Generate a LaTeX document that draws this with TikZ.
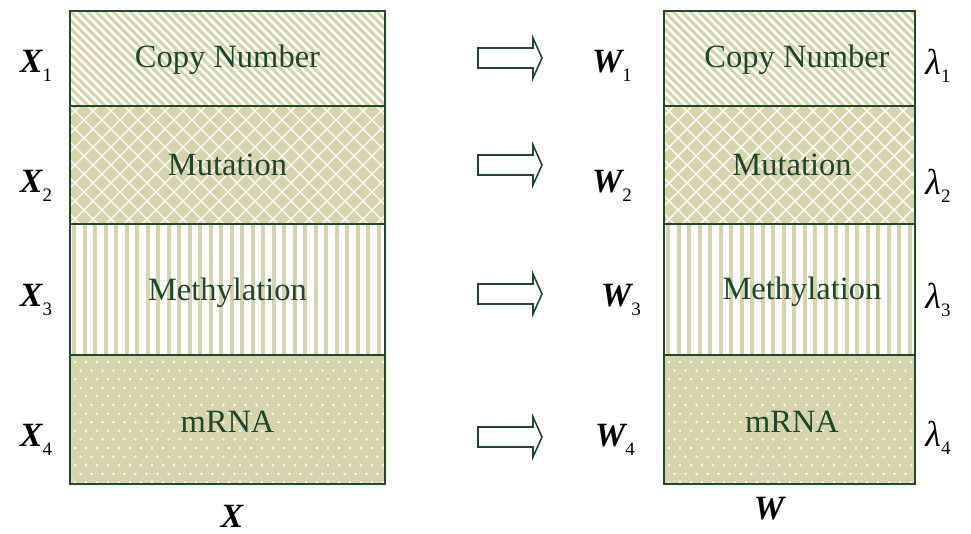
\documentclass[tikz,border=0pt]{standalone}
\usepackage{fontspec}
\setmainfont{Liberation Serif}
\definecolor{khaki}{RGB}{214,212,170}
\definecolor{dkgreen}{RGB}{28,72,40}
\definecolor{bordergreen}{RGB}{32,72,42}
\tikzset{
  rowtext/.style={text=dkgreen,font=\fontsize{32.5}{32.5}\selectfont,inner sep=0pt},
  lbltext/.style={text=black,inner sep=0pt},
  boxborder/.style={draw=bordergreen,line width=2pt},
  fatarrow/.style={draw=bordergreen,fill=white,line width=1.6pt,line join=miter},
}
\newcommand\lbl[2]{{\fontsize{34}{34}\selectfont\itshape\bfseries #1}\raisebox{-9pt}{\fontsize{19}{19}\selectfont #2}}
\newcommand\lam[1]{{\fontsize{36}{36}\selectfont\itshape λ}\raisebox{-8pt}{\fontsize{19}{19}\selectfont #1}}
\newcommand\drawcolumn[2]{%
  % row 1: diagonal stripes
  \begin{scope}
    \clip (#1,11) rectangle (#2,106);
    \fill[white] (#1,11) rectangle (#2,106);
    \foreach \i in {-12,...,38} \draw[khaki,line width=3pt] ({#1+\i*8.5},11) -- ({#1+\i*8.5+95},106);
  \end{scope}
  % row 2: lattice
  \begin{scope}
    \clip (#1,106) rectangle (#2,224);
    \fill[khaki] (#1,106) rectangle (#2,224);
    \foreach \i in {-8,...,26} {
      \draw[white,line width=1.4pt] ({#1+\i*18},106) -- ({#1+\i*18+118},224);
      \draw[white,line width=1.4pt] ({#1+\i*18+118},106) -- ({#1+\i*18},224);
    }
  \end{scope}
  % row 3: vertical stripes
  \begin{scope}
    \clip (#1,224) rectangle (#2,355);
    \fill[white] (#1,224) rectangle (#2,355);
    \foreach \i in {0,...,31} \draw[khaki,line width=4pt] ({#1+4+\i*10.5},224) -- ({#1+4+\i*10.5},355);
  \end{scope}
  % row 4: dots
  \begin{scope}
    \clip (#1,355) rectangle (#2,484);
    \fill[khaki] (#1,355) rectangle (#2,484);
    \foreach \r in {0,...,14} \foreach \c in {0,...,29}
      \fill[white] ({#1+5+\c*11+mod(\r,2)*5.5},{362+\r*8.6}) circle (1.3);
  \end{scope}
  \draw[boxborder] (#1,11) rectangle (#2,484);
  \draw[boxborder] (#1,106) -- (#2,106);
  \draw[boxborder] (#1,224) -- (#2,224);
  \draw[boxborder] (#1,355) -- (#2,355);
}
\newcommand\fatarr[1]{%
  \draw[fatarrow] (478,#1-10) -- (533,#1-10) -- (533,#1-20) -- (542,#1) -- (533,#1+20) -- (533,#1+10) -- (478,#1+10) -- cycle;
}
\begin{document}
\begin{tikzpicture}[x=1pt,y=-1pt]
\useasboundingbox (0,0) rectangle (971,533);
\drawcolumn{70}{385}
\drawcolumn{664}{915}
% row texts left
\node[rowtext] (lc) at (227.5,60) {Copy Number};
\node[rowtext] (lm) at (227.5,165) {Mutation};
\node[rowtext] (le) at (227.5,293) {Methylation};
\node[rowtext] (lr) at (227.5,422) {mRNA};
% row texts right
\node[rowtext] (rc) at (797,60) {Copy Number};
\node[rowtext] (rm) at (792,165) {Mutation};
\node[rowtext] (re) at (802,292) {Methylation};
\node[rowtext] (rr) at (792,422) {mRNA};
% arrows
\fatarr{58}
\fatarr{165}
\fatarr{294}
\fatarr{437}
% X labels
\node[lbltext] (x1) at (36,66) {\lbl{X}{1}};
\node[lbltext] (x2) at (36,186) {\lbl{X}{2}};
\node[lbltext] (x3) at (36,300) {\lbl{X}{3}};
\node[lbltext] (x4) at (36,440) {\lbl{X}{4}};
% W labels
\node[lbltext] (w1) at (612,66) {\lbl{W}{1}};
\node[lbltext] (w2) at (612,186) {\lbl{W}{2}};
\node[lbltext] (w3) at (621,300) {\lbl{W}{3}};
\node[lbltext] (w4) at (615,440) {\lbl{W}{4}};
% lambda labels
\node[lbltext] (l1) at (938,66) {\lam{1}};
\node[lbltext] (l2) at (938,186) {\lam{2}};
\node[lbltext] (l3) at (938,300) {\lam{3}};
\node[lbltext] (l4) at (938,438) {\lam{4}};
% bottom labels
\node[lbltext,font=\fontsize{34}{34}\selectfont\itshape\bfseries] (bx) at (232,516) {X};
\node[lbltext,font=\fontsize{34}{34}\selectfont\itshape\bfseries] (bw) at (769,509) {W};
\end{tikzpicture}
\end{document}
